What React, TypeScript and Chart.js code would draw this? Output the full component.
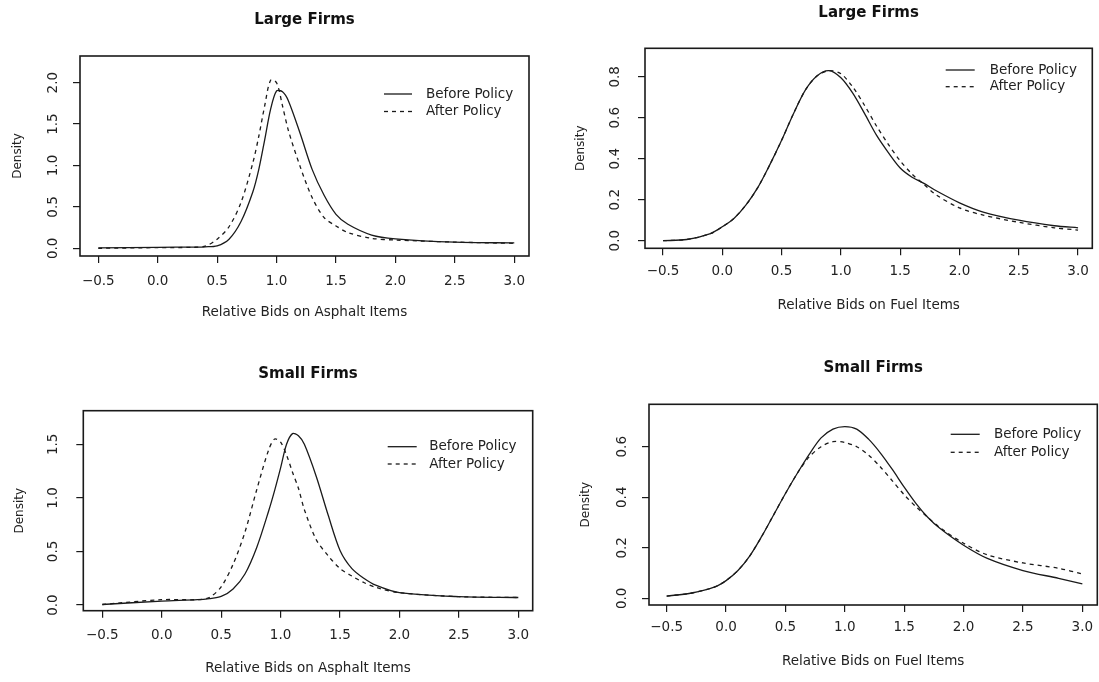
import React, { useEffect, useRef } from "react";
import { Chart, registerables } from "chart.js";

Chart.register(...registerables);

// ---------- data ----------
const seriesLabels = ["Before Policy", "After Policy"];
const xTickValues = [-0.5, 0, 0.5, 1, 1.5, 2, 2.5, 3];

// Large firms, asphalt items
const asphaltLargeX = [-0.5, 0, 0.3, 0.4, 0.5, 0.6, 0.7, 0.8, 0.85, 0.9, 0.95, 1.0, 1.05, 1.1, 1.2, 1.3, 1.4, 1.5, 1.6, 1.8, 2.0, 2.5, 3.0];
const asphaltLargeBefore = [0.005, 0.012, 0.015, 0.018, 0.03, 0.11, 0.32, 0.68, 0.95, 1.31, 1.68, 1.9, 1.89, 1.78, 1.38, 0.95, 0.64, 0.41, 0.29, 0.16, 0.115, 0.075, 0.065];
const asphaltLargeAfter = [0.0, 0.008, 0.012, 0.025, 0.11, 0.26, 0.55, 1.03, 1.35, 1.72, 2.03, 2.0, 1.72, 1.42, 0.98, 0.61, 0.37, 0.27, 0.19, 0.12, 0.1, 0.075, 0.06];
const asphaltLargeYTicks = [0, 0.5, 1.0, 1.5, 2.0];

// Large firms, fuel items
const fuelLargeX = [-0.5, -0.3, -0.1, 0.0, 0.1, 0.2, 0.3, 0.4, 0.5, 0.6, 0.7, 0.8, 0.9, 1.0, 1.1, 1.2, 1.3, 1.4, 1.5, 1.6, 1.7, 1.8, 2.0, 2.2, 2.5, 2.8, 3.0];
const fuelLargeBefore = [0.0, 0.006, 0.035, 0.068, 0.11, 0.175, 0.26, 0.37, 0.49, 0.62, 0.735, 0.805, 0.83, 0.795, 0.72, 0.62, 0.515, 0.43, 0.355, 0.31, 0.28, 0.245, 0.185, 0.14, 0.1, 0.073, 0.063];
const fuelLargeAfter = [0.0, 0.006, 0.035, 0.068, 0.11, 0.175, 0.26, 0.37, 0.49, 0.62, 0.735, 0.805, 0.83, 0.815, 0.75, 0.66, 0.56, 0.47, 0.39, 0.325, 0.275, 0.225, 0.16, 0.125, 0.09, 0.063, 0.052];
const fuelLargeYTicks = [0, 0.2, 0.4, 0.6, 0.8];

// Small firms, asphalt items
const asphaltSmallX = [-0.5, 0.0, 0.3, 0.4, 0.5, 0.6, 0.7, 0.8, 0.9, 0.95, 1.0, 1.05, 1.1, 1.15, 1.2, 1.3, 1.4, 1.5, 1.6, 1.7, 1.8, 2.0, 2.5, 3.0];
const asphaltSmallBefore = [0.005, 0.037, 0.05, 0.06, 0.08, 0.15, 0.29, 0.54, 0.88, 1.07, 1.28, 1.5, 1.6, 1.58, 1.5, 1.2, 0.84, 0.51, 0.34, 0.25, 0.185, 0.115, 0.078, 0.07];
const asphaltSmallAfter = [0.005, 0.05, 0.05, 0.07, 0.17, 0.38, 0.68, 1.08, 1.45, 1.55, 1.52, 1.4, 1.24, 1.09, 0.89, 0.61, 0.46, 0.34, 0.27, 0.21, 0.165, 0.115, 0.078, 0.07];
const asphaltSmallYTicks = [0, 0.5, 1.0, 1.5];

// Small firms, fuel items
const fuelSmallX = [-0.5, -0.3, -0.1, 0.0, 0.1, 0.2, 0.3, 0.4, 0.5, 0.6, 0.7, 0.8, 0.9, 1.0, 1.1, 1.2, 1.3, 1.4, 1.5, 1.6, 1.7, 1.8, 2.0, 2.2, 2.5, 2.8, 3.0];
const fuelSmallBefore = [0.009, 0.02, 0.044, 0.07, 0.11, 0.168, 0.245, 0.33, 0.415, 0.495, 0.57, 0.635, 0.67, 0.68, 0.67, 0.63, 0.575, 0.51, 0.44, 0.375, 0.32, 0.277, 0.21, 0.158, 0.11, 0.079, 0.057];
const fuelSmallAfter = [0.009, 0.02, 0.044, 0.07, 0.11, 0.168, 0.245, 0.33, 0.415, 0.495, 0.56, 0.6, 0.62, 0.617, 0.6, 0.567, 0.52, 0.465, 0.41, 0.362, 0.32, 0.28, 0.218, 0.172, 0.14, 0.119, 0.096];
const fuelSmallYTicks = [0, 0.2, 0.4, 0.6];

// ---------- layout / style ----------
const FONT = "'DejaVu Sans', 'Liberation Sans', sans-serif";
const INK = "#1a1a1a";
const TEXT = "#222222";
const TICK_SIZE = 13.5;

const panels = [
  {
    left: 0, top: 0, w: 549, h: 340,
    title: "Large Firms", xTitle: "Relative Bids on Asphalt Items",
    xs: asphaltLargeX, before: asphaltLargeBefore, after: asphaltLargeAfter, yTicks: asphaltLargeYTicks,
    xMin: -0.654, xMax: 3.124, yMin: -0.093, yMax: 2.322,
    area: { l: 80, r: 529, t: 56, b: 256 },
    pads: { title: 11, yTitle: 10.3, xTitle: 19.9, xTick: 10.6, yTick: 8.9 },
    legend: { x: 384, y: 94, gap: 17.5, len: 28, textX: 42 },
  },
  {
    left: 549, top: 0, w: 550, h: 340,
    title: "Large Firms", xTitle: "Relative Bids on Fuel Items",
    xs: fuelLargeX, before: fuelLargeBefore, after: fuelLargeAfter, yTicks: fuelLargeYTicks,
    xMin: -0.652, xMax: 3.12, yMin: -0.037, yMax: 0.939,
    area: { l: 96, r: 543.3, t: 48.3, b: 248.3 },
    pads: { title: 3.7, yTitle: 24.8, xTitle: 26.9, xTick: 8.3, yTick: 11.6 },
    legend: { x: 396.7, y: 70, gap: 16.7, len: 29, textX: 44 },
  },
  {
    left: 0, top: 340, w: 549, h: 342,
    title: "Small Firms", xTitle: "Relative Bids on Asphalt Items",
    xs: asphaltSmallX, before: asphaltSmallBefore, after: asphaltSmallAfter, yTicks: asphaltSmallYTicks,
    xMin: -0.66, xMax: 3.121, yMin: -0.053, yMax: 1.814,
    area: { l: 83.3, r: 532.7, t: 70.7, b: 270.7 },
    pads: { title: 25.3, yTitle: 12.3, xTitle: 5.6, xTick: 9.2, yTick: 12.2 },
    legend: { x: 387.7, y: 106.7, gap: 17.3, len: 29, textX: 41.6 },
  },
  {
    left: 549, top: 340, w: 550, h: 342,
    title: "Small Firms", xTitle: "Relative Bids on Fuel Items",
    xs: fuelSmallX, before: fuelSmallBefore, after: fuelSmallAfter, yTicks: fuelSmallYTicks,
    xMin: -0.649, xMax: 3.126, yMin: -0.0265, yMax: 0.768,
    area: { l: 100, r: 548.3, t: 64.3, b: 265 },
    pads: { title: 19.3, yTitle: 29.3, xTitle: 12.2, xTick: 7.2, yTick: 8.9 },
    legend: { x: 401.7, y: 94.3, gap: 18, len: 29, textX: 43.3 },
  },
];

const fmt = (v: number) => (v < -1e-9 ? "\u2212" : "") + Math.abs(v).toFixed(1);

// box around plot region + R-style legend inside it
const framePlugin = {
  id: "rFrame",
  afterDraw(chart: any, _args: any, opts: any) {
    const { ctx, chartArea: a } = chart;
    ctx.save();
    ctx.strokeStyle = INK;
    ctx.lineWidth = 1.6;
    ctx.setLineDash([]);
    ctx.strokeRect(a.left, a.top, a.right - a.left, a.bottom - a.top);
    const L = opts.legend;
    if (L) {
      chart.data.datasets.forEach((ds: any, i: number) => {
        const y = L.y + i * L.gap;
        ctx.beginPath();
        ctx.setLineDash(ds.borderDash || []);
        ctx.lineWidth = ds.borderWidth;
        ctx.strokeStyle = ds.borderColor;
        ctx.moveTo(L.x, y);
        ctx.lineTo(L.x + L.len, y);
        ctx.stroke();
        ctx.setLineDash([]);
        ctx.fillStyle = TEXT;
        ctx.font = `13.5px ${FONT}`;
        ctx.textAlign = "left";
        ctx.textBaseline = "middle";
        ctx.fillText(ds.label, L.x + L.textX, y);
      });
    }
    ctx.restore();
  },
};

function buildConfig(p: any): any {
  const pts = (ys: number[]) => p.xs.map((x: number, i: number) => ({ x, y: ys[i] }));
  const tickGrid = { display: true, drawOnChartArea: false, drawTicks: true, tickLength: 7, color: INK, lineWidth: 1.2 };
  const lineStyle = { borderColor: INK, borderWidth: 1.3, pointRadius: 0, tension: 0.3, fill: false };
  return {
    type: "line",
    data: {
      datasets: [
        { label: seriesLabels[0], data: pts(p.before), ...lineStyle },
        { label: seriesLabels[1], data: pts(p.after), ...lineStyle, borderDash: [4, 4] },
      ],
    },
    options: {
      animation: false,
      responsive: false,
      maintainAspectRatio: false,
      events: [],
      layout: { padding: { left: 0, top: 0, bottom: 0, right: p.w - p.area.r } },
      plugins: {
        legend: { display: false },
        tooltip: { enabled: false },
        title: { display: false },
        rFrame: { legend: p.legend },
      },
      scales: {
        x: {
          type: "linear",
          position: "bottom",
          min: p.xMin,
          max: p.xMax,
          afterBuildTicks: (s: any) => { s.ticks = xTickValues.map((v) => ({ value: v })); },
          afterFit: (s: any) => { s.height = p.h - p.area.b; s.paddingLeft = 0; s.paddingRight = 0; },
          grid: tickGrid,
          border: { display: false },
          ticks: { autoSkip: false, maxRotation: 0, minRotation: 0, padding: p.pads.xTick, color: TEXT, font: { family: FONT, size: TICK_SIZE }, callback: (v: any) => fmt(Number(v)) },
          title: { display: true, text: p.xTitle, color: TEXT, font: { family: FONT, size: 13.5 }, padding: { top: 0, bottom: p.pads.xTitle } },
        },
        x2: {
          type: "linear",
          position: "top",
          min: p.xMin,
          max: p.xMax,
          afterFit: (s: any) => { s.height = p.area.t; s.paddingLeft = 0; s.paddingRight = 0; },
          grid: { display: false, drawTicks: false },
          border: { display: false },
          ticks: { display: false },
          title: { display: true, text: p.title, color: "#111", font: { family: FONT, size: 15, weight: "bold" }, padding: { top: p.pads.title, bottom: 0 } },
        },
        y: {
          type: "linear",
          position: "left",
          min: p.yMin,
          max: p.yMax,
          afterBuildTicks: (s: any) => { s.ticks = p.yTicks.map((v: number) => ({ value: v })); },
          afterFit: (s: any) => { s.width = p.area.l; s.paddingTop = 0; s.paddingBottom = 0; },
          grid: tickGrid,
          border: { display: false },
          ticks: { autoSkip: false, minRotation: 90, maxRotation: 90, crossAlign: "center", padding: p.pads.yTick, color: TEXT, font: { family: FONT, size: TICK_SIZE }, callback: (v: any) => fmt(Number(v)) },
          title: { display: true, text: "Density", color: TEXT, font: { family: FONT, size: 12 }, padding: { top: p.pads.yTitle, bottom: 0 } },
        },
      },
    },
    plugins: [framePlugin],
  };
}

function Panel({ spec }: { spec: any }) {
  const ref = useRef<HTMLCanvasElement>(null);
  useEffect(() => {
    if (!ref.current) return;
    const chart = new Chart(ref.current, buildConfig(spec));
    return () => chart.destroy();
  }, [spec]);
  return (
    <canvas
      ref={ref}
      width={spec.w}
      height={spec.h}
      style={{ position: "absolute", left: spec.left, top: spec.top, width: spec.w, height: spec.h }}
    />
  );
}

export default function App() {
  return (
    <div style={{ position: "absolute", left: 0, top: 0, width: 1099, height: 682, background: "#ffffff", overflow: "hidden" }}>
      {panels.map((p, i) => (
        <Panel key={i} spec={p} />
      ))}
    </div>
  );
}
